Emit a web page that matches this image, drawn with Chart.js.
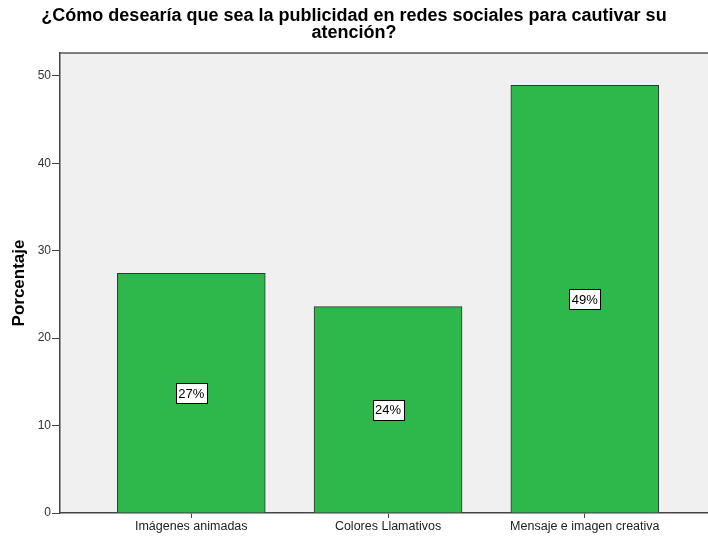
<!DOCTYPE html>
<html>
<head>
<meta charset="utf-8">
<script src="https://cdn.jsdelivr.net/npm/chart.js@4/dist/chart.umd.min.js"></script>
<style>
  html, body { margin: 0; padding: 0; background: #fff; }
  #wrap { width: 708px; height: 538px; }
</style>
</head>
<body>
<div id="wrap"><canvas id="bars-graph"></canvas></div>
<script>
var categories = ["Imágenes animadas", "Colores Llamativos", "Mensaje e imagen creativa"];
var porcentaje = [27.4, 23.6, 48.9];
var yTicks = [0, 10, 20, 30, 40, 50];

// gray plot background + top frame line
var plotBg = {
  id: 'plotBg',
  beforeDraw: function(chart) {
    var a = chart.chartArea, c = chart.ctx;
    c.save();
    c.fillStyle = '#f0f0f0';
    c.fillRect(a.left, a.top, a.right - a.left, a.bottom - a.top);
    c.strokeStyle = '#555';
    c.lineWidth = 1.5;
    c.beginPath();
    c.moveTo(a.left, a.top);
    c.lineTo(a.right, a.top);
    c.stroke();
    c.restore();
  }
};

// white boxed percentage labels in the middle of each bar
var barLabels = {
  id: 'barLabels',
  afterDatasetsDraw: function(chart) {
    var c = chart.ctx;
    var meta = chart.getDatasetMeta(0);
    c.save();
    c.font = '13px "Liberation Sans", Arial, sans-serif';
    c.textAlign = 'center';
    c.textBaseline = 'middle';
    meta.data.forEach(function(bar, i) {
      var cy = (bar.y + bar.base) / 2;
      var txt = Math.round(porcentaje[i]) + '%';
      var w = 31, h = 20;
      var x0 = Math.round(bar.x - w / 2) + 0.5, y0 = Math.round(cy - h / 2) + 0.5;
      c.fillStyle = '#fff';
      c.fillRect(x0, y0, w, h);
      c.strokeStyle = '#000';
      c.lineWidth = 1;
      c.strokeRect(x0, y0, w, h);
      c.fillStyle = '#000';
      c.fillText(txt, bar.x, cy + 1);
    });
    c.restore();
  }
};

var ctx = document.getElementById("bars-graph").getContext("2d");
var BarChart = new Chart(ctx, {
  type: 'bar',
  data: {
    labels: categories,
    datasets: [{
      data: porcentaje,
      backgroundColor: '#2eb84b',
      borderColor: '#333',
      borderWidth: 1,
      barThickness: 148
    }]
  },
  options: {
    responsive: true,
    maintainAspectRatio: false,
    animation: false,
    layout: { padding: 0 },
    plugins: {
      legend: { display: false },
      tooltip: { enabled: false },
      title: {
        display: true,
        text: ['¿Cómo desearía que sea la publicidad en redes sociales para cautivar su', 'atención?'],
        color: '#000',
        font: { family: '"Liberation Sans", Arial, sans-serif', size: 18, weight: 'bold', lineHeight: 0.95 },
        padding: { top: 7, bottom: 11.8 }
      }
    },
    scales: {
      x: {
        offset: true,
        grid: { display: true, offset: false, drawOnChartArea: false, drawTicks: true, tickLength: 5, color: '#444' },
        border: { display: true, color: '#444', width: 1.5 },
        ticks: { color: '#222', padding: 1, maxRotation: 0, font: { family: '"Liberation Sans", Arial, sans-serif', size: 12.5 } },
        afterBuildTicks: function(scale) {
          // leave extra space left of the first bar like the original
          scale._startValue = -0.667;
          scale._valueRange = 3.293;
        },
        afterFit: function(scale) { scale.height = 25; }
      },
      y: {
        min: 0,
        max: 52.6,
        afterBuildTicks: function(scale) {
          scale.ticks = yTicks.map(function(v) { return { value: v }; });
        },
        grid: { display: true, drawOnChartArea: false, drawTicks: true, tickLength: 8, color: '#444' },
        border: { display: true, color: '#444', width: 1.5 },
        ticks: { color: '#333', padding: 1, font: { family: '"Liberation Sans", Arial, sans-serif', size: 12 } },
        title: {
          display: true,
          text: 'Porcentaje',
          color: '#000',
          font: { family: '"Liberation Sans", Arial, sans-serif', size: 17, weight: 'bold' },
          padding: { top: 9, bottom: 0 }
        },
        afterFit: function(scale) { scale.width = 60; }
      }
    }
  },
  plugins: [plotBg, barLabels]
});
</script>
</body>
</html>
